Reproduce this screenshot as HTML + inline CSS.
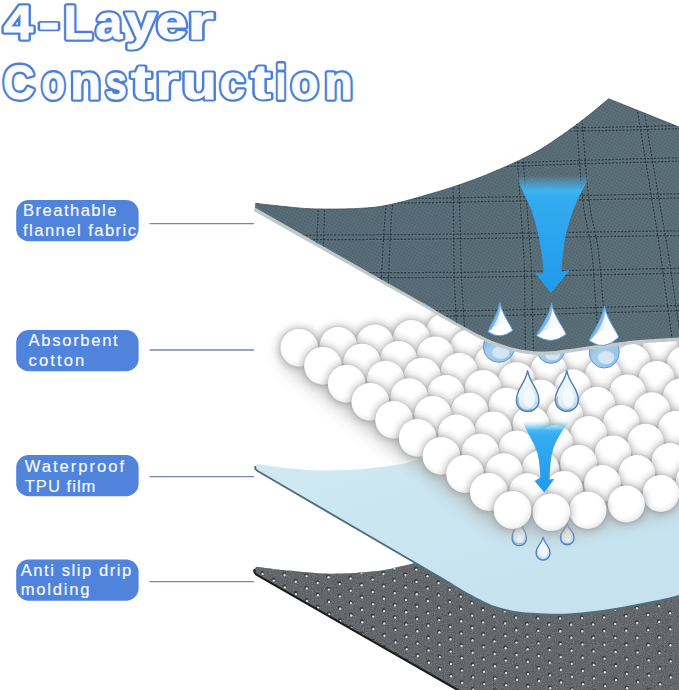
<!DOCTYPE html>
<html lang="en">
<head>
<meta charset="utf-8">
<title>4-Layer Construction</title>
<style>
  html, body { margin: 0; padding: 0; background: #ffffff; }
  body { width: 679px; height: 690px; overflow: hidden; font-family: "Liberation Sans", sans-serif; }
  svg { display: block; }
  .ttl text { vector-effect: non-scaling-stroke; }
  .ttl { font-family: "Liberation Sans", sans-serif; font-weight: bold; font-size: 47.5px; }
  .lbl { font-family: "Liberation Sans", sans-serif; font-size: 16.6px; fill: #f8faff; stroke: #f8faff; stroke-width: 0.15px; }
</style>
</head>
<body>
<svg width="679" height="690" viewBox="0 0 679 690">
<defs>
  <linearGradient id="gFab" x1="0" y1="0" x2="1" y2="0">
    <stop offset="0" stop-color="#566c76"/>
    <stop offset="0.5" stop-color="#586d76"/>
    <stop offset="1" stop-color="#5a6f77"/>
  </linearGradient>
  <linearGradient id="gTpu" x1="0" y1="0" x2="0.6" y2="1">
    <stop offset="0" stop-color="#d3ebf4"/>
    <stop offset="1" stop-color="#c5e2ee"/>
  </linearGradient>
  <linearGradient id="gArrow" x1="0" y1="0" x2="0" y2="1">
    <stop offset="0" stop-color="#5cc4f6"/>
    <stop offset="0.22" stop-color="#33abf1"/>
    <stop offset="1" stop-color="#2299eb"/>
  </linearGradient>
  <linearGradient id="gFade" x1="0" y1="0" x2="0" y2="1">
    <stop offset="0" stop-color="#fff" stop-opacity="0"/>
    <stop offset="0.12" stop-color="#fff" stop-opacity="1"/>
    <stop offset="1" stop-color="#fff" stop-opacity="1"/>
  </linearGradient>
  <radialGradient id="gBall" cx="0.44" cy="0.42" r="0.62">
    <stop offset="0" stop-color="#ffffff"/>
    <stop offset="0.66" stop-color="#ffffff"/>
    <stop offset="0.86" stop-color="#f3f3f3"/>
    <stop offset="1" stop-color="#e2e2e2"/>
  </radialGradient>
  <radialGradient id="gBallSh" cx="0.5" cy="0.5" r="0.5">
    <stop offset="0" stop-color="#8e8e8e" stop-opacity="0.46"/>
    <stop offset="0.68" stop-color="#8e8e8e" stop-opacity="0.46"/>
    <stop offset="0.76" stop-color="#9a9a9a" stop-opacity="0.27"/>
    <stop offset="0.87" stop-color="#a6a6a6" stop-opacity="0.11"/>
    <stop offset="1" stop-color="#b0b0b0" stop-opacity="0"/>
  </radialGradient>
  <filter id="blurBig" x="-30%" y="-30%" width="160%" height="160%"><feGaussianBlur stdDeviation="8"/></filter>
  <linearGradient id="gDrop" x1="0.2" y1="0" x2="0.8" y2="1">
    <stop offset="0" stop-color="#fbfdff"/>
    <stop offset="0.5" stop-color="#e9f3fb"/>
    <stop offset="1" stop-color="#bcdaf0"/>
  </linearGradient>
  <linearGradient id="gCone" x1="0" y1="0" x2="1" y2="0.15">
    <stop offset="0" stop-color="#86bdec"/>
    <stop offset="0.30" stop-color="#c3dff6"/>
    <stop offset="0.55" stop-color="#f2f8fd"/>
    <stop offset="1" stop-color="#ffffff"/>
  </linearGradient>
  <linearGradient id="gBulb" x1="0" y1="0" x2="1" y2="1">
    <stop offset="0" stop-color="#6fa6d8"/>
    <stop offset="0.4" stop-color="#a6cdeb"/>
    <stop offset="1" stop-color="#93c0e4"/>
  </linearGradient>
  <linearGradient id="gMaskV" x1="0" y1="0" x2="0" y2="1">
    <stop offset="0" stop-color="#000"/>
    <stop offset="0.04" stop-color="#000"/>
    <stop offset="0.16" stop-color="#fff"/>
    <stop offset="1" stop-color="#fff"/>
  </linearGradient>
  <mask id="mA1" maskUnits="userSpaceOnUse" x="500" y="170" width="110" height="130">
    <rect x="500" y="170" width="110" height="130" fill="url(#gMaskV)"/>
  </mask>
  <mask id="mA2" maskUnits="userSpaceOnUse" x="515" y="418" width="60" height="80">
    <rect x="515" y="418" width="60" height="80" fill="url(#gMaskV)"/>
  </mask>
  <pattern id="pWeave" width="3" height="3" patternUnits="userSpaceOnUse" patternTransform="rotate(28)">
    <rect width="3" height="3" fill="none"/>
    <rect x="0" y="0" width="1.4" height="1.4" fill="#2c3c46" opacity="0.30"/>
    <rect x="1.5" y="1.5" width="1.3" height="1.3" fill="#8aa3b0" opacity="0.12"/>
  </pattern>
  <filter id="noise" x="0" y="0" width="100%" height="100%">
    <feTurbulence type="fractalNoise" baseFrequency="0.9" numOctaves="2" seed="3" result="n"/>
    <feColorMatrix in="n" type="matrix" values="0 0 0 0 0.33  0 0 0 0 0.34  0 0 0 0 0.36  0.9 0.9 0.9 0 -0.95"/>
  </filter>
  <filter id="blur2" x="-20%" y="-20%" width="140%" height="140%"><feGaussianBlur stdDeviation="2"/></filter>
  <filter id="blur1" x="-20%" y="-20%" width="140%" height="140%"><feGaussianBlur stdDeviation="0.7"/></filter>
</defs>
<rect width="679" height="690" fill="#ffffff"/>

<g id="title">
<g class="ttl" fill="#4c7fd8" stroke="#4c7fd8" stroke-width="5.6" stroke-linejoin="round" stroke-linecap="round" vector-effect="non-scaling-stroke"><text transform="translate(18.60,39.0) scale(1.123,1)" x="-13.54" y="0">4</text><text transform="translate(49.00,39.0) scale(1.360,1)" x="-7.84" y="0">-</text><text transform="translate(79.00,39.0) scale(1.004,1)" x="-15.44" y="0">L</text><text transform="translate(109.50,39.0) scale(1.006,1)" x="-14.01" y="0">a</text><text transform="translate(141.00,39.0) scale(1.179,1)" x="-13.30" y="0">y</text><text transform="translate(171.75,39.0) scale(1.173,1)" x="-13.30" y="0">e</text><text transform="translate(202.25,39.0) scale(1.447,1)" x="-10.45" y="0">r</text></g>
<g class="ttl" fill="#fbfcff" stroke="#fbfcff" stroke-width="1.0" stroke-linejoin="round" stroke-linecap="round" vector-effect="non-scaling-stroke"><text transform="translate(18.60,39.0) scale(1.123,1)" x="-13.54" y="0">4</text><text transform="translate(49.00,39.0) scale(1.360,1)" x="-7.84" y="0">-</text><text transform="translate(79.00,39.0) scale(1.004,1)" x="-15.44" y="0">L</text><text transform="translate(109.50,39.0) scale(1.006,1)" x="-14.01" y="0">a</text><text transform="translate(141.00,39.0) scale(1.179,1)" x="-13.30" y="0">y</text><text transform="translate(171.75,39.0) scale(1.173,1)" x="-13.30" y="0">e</text><text transform="translate(202.25,39.0) scale(1.447,1)" x="-10.45" y="0">r</text></g>
<g class="ttl" fill="#4c7fd8" stroke="#4c7fd8" stroke-width="5.6" stroke-linejoin="round" stroke-linecap="round" vector-effect="non-scaling-stroke"><text transform="translate(18.95,99.4) scale(0.916,1)" x="-17.46" y="0">C</text><text transform="translate(53.30,99.4) scale(0.811,1)" x="-14.49" y="0">o</text><text transform="translate(85.85,99.4) scale(1.063,1)" x="-14.61" y="0">n</text><text transform="translate(115.85,99.4) scale(0.812,1)" x="-13.18" y="0">s</text><text transform="translate(141.45,99.4) scale(1.303,1)" x="-7.96" y="0">t</text><text transform="translate(168.75,99.4) scale(1.297,1)" x="-10.45" y="0">r</text><text transform="translate(199.05,99.4) scale(1.211,1)" x="-14.37" y="0">u</text><text transform="translate(232.60,99.4) scale(0.961,1)" x="-13.42" y="0">c</text><text transform="translate(260.75,99.4) scale(1.303,1)" x="-7.96" y="0">t</text><text transform="translate(280.70,99.4) scale(0.813,1)" x="-6.53" y="0">i</text><text transform="translate(304.65,99.4) scale(0.955,1)" x="-14.49" y="0">o</text><text transform="translate(338.70,99.4) scale(0.981,1)" x="-14.61" y="0">n</text></g>
<g class="ttl" fill="#fbfcff" stroke="#fbfcff" stroke-width="1.0" stroke-linejoin="round" stroke-linecap="round" vector-effect="non-scaling-stroke"><text transform="translate(18.95,99.4) scale(0.916,1)" x="-17.46" y="0">C</text><text transform="translate(53.30,99.4) scale(0.811,1)" x="-14.49" y="0">o</text><text transform="translate(85.85,99.4) scale(1.063,1)" x="-14.61" y="0">n</text><text transform="translate(115.85,99.4) scale(0.812,1)" x="-13.18" y="0">s</text><text transform="translate(141.45,99.4) scale(1.303,1)" x="-7.96" y="0">t</text><text transform="translate(168.75,99.4) scale(1.297,1)" x="-10.45" y="0">r</text><text transform="translate(199.05,99.4) scale(1.211,1)" x="-14.37" y="0">u</text><text transform="translate(232.60,99.4) scale(0.961,1)" x="-13.42" y="0">c</text><text transform="translate(260.75,99.4) scale(1.303,1)" x="-7.96" y="0">t</text><text transform="translate(280.70,99.4) scale(0.813,1)" x="-6.53" y="0">i</text><text transform="translate(304.65,99.4) scale(0.955,1)" x="-14.49" y="0">o</text><text transform="translate(338.70,99.4) scale(0.981,1)" x="-14.61" y="0">n</text></g>
</g>
<g id="labels">
<rect x="16.2" y="200" width="122.4" height="41.2" rx="12.5" ry="12.5" fill="#5083dc"/>
<line x1="149.5" y1="223.6" x2="254" y2="223.6" stroke="#7688b2" stroke-width="1.4"/>
<text class="lbl" x="23" y="216" textLength="93.4" lengthAdjust="spacing">Breathable</text>
<text class="lbl" x="23" y="235.5" textLength="113" lengthAdjust="spacing">flannel fabric</text>
<rect x="16.2" y="330" width="122.4" height="41.2" rx="12.5" ry="12.5" fill="#5083dc"/>
<line x1="149.5" y1="350.0" x2="254" y2="350.0" stroke="#7688b2" stroke-width="1.4"/>
<text class="lbl" x="28.6" y="346" textLength="89.1" lengthAdjust="spacing">Absorbent</text>
<text class="lbl" x="28.6" y="366" textLength="55.7" lengthAdjust="spacing">cotton</text>
<rect x="16.2" y="455" width="122.4" height="41.2" rx="12.5" ry="12.5" fill="#5083dc"/>
<line x1="149.5" y1="476.6" x2="254" y2="476.6" stroke="#7688b2" stroke-width="1.4"/>
<text class="lbl" x="24.7" y="471.8" textLength="99.3" lengthAdjust="spacing">Waterproof</text>
<text class="lbl" x="24.7" y="491.7" textLength="70.7" lengthAdjust="spacing">TPU film</text>
<rect x="16.2" y="559.5" width="122.4" height="41.2" rx="12.5" ry="12.5" fill="#5083dc"/>
<line x1="149.5" y1="581.6" x2="254" y2="581.6" stroke="#7688b2" stroke-width="1.4"/>
<text class="lbl" x="20.7" y="576" textLength="110.5" lengthAdjust="spacing">Anti slip drip</text>
<text class="lbl" x="20.7" y="595" textLength="68.8" lengthAdjust="spacing">molding</text>
</g>
<g id="bottom-layer">
<clipPath id="cpBot"><path d="M257.2,566.8 C260.2,567.2 269.7,568.6 275.0,569.2 C280.3,569.8 281.9,569.9 289.2,570.6 C296.5,571.3 309.1,572.8 318.6,573.2 C328.1,573.7 335.5,573.8 346.0,573.3 C356.5,572.8 372.6,571.5 381.4,570.4 C390.2,569.3 393.1,568.1 399.0,566.8 C404.9,565.5 408.2,565.1 416.7,562.6 C425.2,560.1 444.4,553.8 450.0,552.0 L679,560 L679,691 L459.5,691 L256.6,574.4 Q253.6,572.4 254.6,569.4 Q255.4,566.6 257.2,566.8 Z"/></clipPath>
<path d="M257.2,566.8 C260.2,567.2 269.7,568.6 275.0,569.2 C280.3,569.8 281.9,569.9 289.2,570.6 C296.5,571.3 309.1,572.8 318.6,573.2 C328.1,573.7 335.5,573.8 346.0,573.3 C356.5,572.8 372.6,571.5 381.4,570.4 C390.2,569.3 393.1,568.1 399.0,566.8 C404.9,565.5 408.2,565.1 416.7,562.6 C425.2,560.1 444.4,553.8 450.0,552.0 L679,560 L679,691 L459.5,691 L256.6,574.4 Q253.6,572.4 254.6,569.4 Q255.4,566.6 257.2,566.8 Z" fill="#55585c"/>
<g clip-path="url(#cpBot)">
<rect x="250" y="555" width="430" height="140" fill="#55585c" filter="url(#noise)" opacity="0.55"/>
<g fill="#36383c" opacity="0.85"><circle cx="262.0" cy="560.5" r="2.0"/><circle cx="262.2" cy="572.9" r="2.0"/><circle cx="273.1" cy="567.3" r="2.0"/><circle cx="284.0" cy="561.7" r="2.0"/><circle cx="262.4" cy="585.2" r="2.0"/><circle cx="273.3" cy="579.6" r="2.0"/><circle cx="284.2" cy="574.0" r="2.0"/><circle cx="295.1" cy="568.4" r="2.0"/><circle cx="306.0" cy="562.9" r="2.0"/><circle cx="262.6" cy="597.6" r="2.0"/><circle cx="273.5" cy="592.0" r="2.0"/><circle cx="284.4" cy="586.4" r="2.0"/><circle cx="295.3" cy="580.8" r="2.0"/><circle cx="306.2" cy="575.2" r="2.0"/><circle cx="317.1" cy="569.6" r="2.0"/><circle cx="328.0" cy="564.0" r="2.0"/><circle cx="273.7" cy="604.4" r="2.0"/><circle cx="284.6" cy="598.8" r="2.0"/><circle cx="295.5" cy="593.1" r="2.0"/><circle cx="306.4" cy="587.5" r="2.0"/><circle cx="317.3" cy="581.9" r="2.0"/><circle cx="328.2" cy="576.4" r="2.0"/><circle cx="339.1" cy="570.8" r="2.0"/><circle cx="350.0" cy="565.1" r="2.0"/><circle cx="360.9" cy="559.5" r="2.0"/><circle cx="284.8" cy="611.1" r="2.0"/><circle cx="295.7" cy="605.5" r="2.0"/><circle cx="306.6" cy="599.9" r="2.0"/><circle cx="317.5" cy="594.3" r="2.0"/><circle cx="328.4" cy="588.7" r="2.0"/><circle cx="339.3" cy="583.1" r="2.0"/><circle cx="350.2" cy="577.5" r="2.0"/><circle cx="361.1" cy="571.9" r="2.0"/><circle cx="372.0" cy="566.3" r="2.0"/><circle cx="382.9" cy="560.7" r="2.0"/><circle cx="295.9" cy="617.9" r="2.0"/><circle cx="306.8" cy="612.2" r="2.0"/><circle cx="317.7" cy="606.6" r="2.0"/><circle cx="328.6" cy="601.0" r="2.0"/><circle cx="339.5" cy="595.4" r="2.0"/><circle cx="350.4" cy="589.9" r="2.0"/><circle cx="361.3" cy="584.2" r="2.0"/><circle cx="372.2" cy="578.6" r="2.0"/><circle cx="383.1" cy="573.0" r="2.0"/><circle cx="394.0" cy="567.4" r="2.0"/><circle cx="404.9" cy="561.9" r="2.0"/><circle cx="307.0" cy="624.6" r="2.0"/><circle cx="317.9" cy="619.0" r="2.0"/><circle cx="328.8" cy="613.4" r="2.0"/><circle cx="339.7" cy="607.8" r="2.0"/><circle cx="350.6" cy="602.2" r="2.0"/><circle cx="361.5" cy="596.6" r="2.0"/><circle cx="372.4" cy="591.0" r="2.0"/><circle cx="383.3" cy="585.4" r="2.0"/><circle cx="394.2" cy="579.8" r="2.0"/><circle cx="405.1" cy="574.2" r="2.0"/><circle cx="416.0" cy="568.6" r="2.0"/><circle cx="426.9" cy="563.0" r="2.0"/><circle cx="318.1" cy="631.4" r="2.0"/><circle cx="329.0" cy="625.8" r="2.0"/><circle cx="339.9" cy="620.1" r="2.0"/><circle cx="350.8" cy="614.5" r="2.0"/><circle cx="361.7" cy="608.9" r="2.0"/><circle cx="372.6" cy="603.4" r="2.0"/><circle cx="383.5" cy="597.8" r="2.0"/><circle cx="394.4" cy="592.1" r="2.0"/><circle cx="405.3" cy="586.5" r="2.0"/><circle cx="416.2" cy="580.9" r="2.0"/><circle cx="427.1" cy="575.4" r="2.0"/><circle cx="438.0" cy="569.8" r="2.0"/><circle cx="448.9" cy="564.1" r="2.0"/><circle cx="329.2" cy="638.1" r="2.0"/><circle cx="340.1" cy="632.5" r="2.0"/><circle cx="351.0" cy="626.9" r="2.0"/><circle cx="361.9" cy="621.3" r="2.0"/><circle cx="372.8" cy="615.7" r="2.0"/><circle cx="383.7" cy="610.1" r="2.0"/><circle cx="394.6" cy="604.5" r="2.0"/><circle cx="405.5" cy="598.9" r="2.0"/><circle cx="416.4" cy="593.3" r="2.0"/><circle cx="427.3" cy="587.7" r="2.0"/><circle cx="438.2" cy="582.1" r="2.0"/><circle cx="449.1" cy="576.5" r="2.0"/><circle cx="460.0" cy="570.9" r="2.0"/><circle cx="470.9" cy="565.3" r="2.0"/><circle cx="481.8" cy="559.7" r="2.0"/><circle cx="340.3" cy="644.9" r="2.0"/><circle cx="351.2" cy="639.2" r="2.0"/><circle cx="362.1" cy="633.6" r="2.0"/><circle cx="373.0" cy="628.0" r="2.0"/><circle cx="383.9" cy="622.4" r="2.0"/><circle cx="394.8" cy="616.9" r="2.0"/><circle cx="405.7" cy="611.2" r="2.0"/><circle cx="416.6" cy="605.6" r="2.0"/><circle cx="427.5" cy="600.0" r="2.0"/><circle cx="438.4" cy="594.4" r="2.0"/><circle cx="449.3" cy="588.9" r="2.0"/><circle cx="460.2" cy="583.2" r="2.0"/><circle cx="471.1" cy="577.6" r="2.0"/><circle cx="482.0" cy="572.0" r="2.0"/><circle cx="492.9" cy="566.5" r="2.0"/><circle cx="503.8" cy="560.8" r="2.0"/><circle cx="351.4" cy="651.6" r="2.0"/><circle cx="362.3" cy="646.0" r="2.0"/><circle cx="373.2" cy="640.4" r="2.0"/><circle cx="384.1" cy="634.8" r="2.0"/><circle cx="395.0" cy="629.2" r="2.0"/><circle cx="405.9" cy="623.6" r="2.0"/><circle cx="416.8" cy="618.0" r="2.0"/><circle cx="427.7" cy="612.4" r="2.0"/><circle cx="438.6" cy="606.8" r="2.0"/><circle cx="449.5" cy="601.2" r="2.0"/><circle cx="460.4" cy="595.6" r="2.0"/><circle cx="471.3" cy="590.0" r="2.0"/><circle cx="482.2" cy="584.4" r="2.0"/><circle cx="493.1" cy="578.8" r="2.0"/><circle cx="504.0" cy="573.2" r="2.0"/><circle cx="514.9" cy="567.4" r="2.0"/><circle cx="525.8" cy="561.4" r="2.0"/><circle cx="362.5" cy="658.4" r="2.0"/><circle cx="373.4" cy="652.8" r="2.0"/><circle cx="384.3" cy="647.1" r="2.0"/><circle cx="395.2" cy="641.5" r="2.0"/><circle cx="406.1" cy="635.9" r="2.0"/><circle cx="417.0" cy="630.4" r="2.0"/><circle cx="427.9" cy="624.8" r="2.0"/><circle cx="438.8" cy="619.1" r="2.0"/><circle cx="449.7" cy="613.5" r="2.0"/><circle cx="460.6" cy="607.9" r="2.0"/><circle cx="471.5" cy="602.4" r="2.0"/><circle cx="482.4" cy="596.8" r="2.0"/><circle cx="493.3" cy="591.1" r="2.0"/><circle cx="504.2" cy="585.5" r="2.0"/><circle cx="515.1" cy="579.7" r="2.0"/><circle cx="526.0" cy="573.7" r="2.0"/><circle cx="536.9" cy="567.5" r="2.0"/><circle cx="547.8" cy="561.0" r="2.0"/><circle cx="373.6" cy="665.1" r="2.0"/><circle cx="384.5" cy="659.5" r="2.0"/><circle cx="395.4" cy="653.9" r="2.0"/><circle cx="406.3" cy="648.3" r="2.0"/><circle cx="417.2" cy="642.7" r="2.0"/><circle cx="428.1" cy="637.1" r="2.0"/><circle cx="439.0" cy="631.5" r="2.0"/><circle cx="449.9" cy="625.9" r="2.0"/><circle cx="460.8" cy="620.3" r="2.0"/><circle cx="471.7" cy="614.7" r="2.0"/><circle cx="482.6" cy="609.1" r="2.0"/><circle cx="493.5" cy="603.5" r="2.0"/><circle cx="504.4" cy="597.9" r="2.0"/><circle cx="515.3" cy="592.1" r="2.0"/><circle cx="526.2" cy="586.1" r="2.0"/><circle cx="537.1" cy="579.8" r="2.0"/><circle cx="548.0" cy="573.3" r="2.0"/><circle cx="558.9" cy="566.6" r="2.0"/><circle cx="569.8" cy="559.7" r="2.0"/><circle cx="384.7" cy="671.9" r="2.0"/><circle cx="395.6" cy="666.2" r="2.0"/><circle cx="406.5" cy="660.6" r="2.0"/><circle cx="417.4" cy="655.0" r="2.0"/><circle cx="428.3" cy="649.4" r="2.0"/><circle cx="439.2" cy="643.9" r="2.0"/><circle cx="450.1" cy="638.2" r="2.0"/><circle cx="461.0" cy="632.6" r="2.0"/><circle cx="471.9" cy="627.0" r="2.0"/><circle cx="482.8" cy="621.4" r="2.0"/><circle cx="493.7" cy="615.9" r="2.0"/><circle cx="504.6" cy="610.2" r="2.0"/><circle cx="515.5" cy="604.5" r="2.0"/><circle cx="526.4" cy="598.5" r="2.0"/><circle cx="537.3" cy="592.4" r="2.0"/><circle cx="548.2" cy="585.9" r="2.0"/><circle cx="559.1" cy="579.1" r="2.0"/><circle cx="570.0" cy="572.0" r="2.0"/><circle cx="580.9" cy="564.9" r="2.0"/><circle cx="395.8" cy="678.6" r="2.0"/><circle cx="406.7" cy="673.0" r="2.0"/><circle cx="417.6" cy="667.4" r="2.0"/><circle cx="428.5" cy="661.8" r="2.0"/><circle cx="439.4" cy="656.2" r="2.0"/><circle cx="450.3" cy="650.6" r="2.0"/><circle cx="461.2" cy="645.0" r="2.0"/><circle cx="472.1" cy="639.4" r="2.0"/><circle cx="483.0" cy="633.8" r="2.0"/><circle cx="493.9" cy="628.2" r="2.0"/><circle cx="504.8" cy="622.6" r="2.0"/><circle cx="515.7" cy="616.9" r="2.0"/><circle cx="526.6" cy="611.0" r="2.0"/><circle cx="537.5" cy="604.9" r="2.0"/><circle cx="548.4" cy="598.5" r="2.0"/><circle cx="559.3" cy="591.9" r="2.0"/><circle cx="570.2" cy="584.9" r="2.0"/><circle cx="581.1" cy="577.6" r="2.0"/><circle cx="592.0" cy="569.9" r="2.0"/><circle cx="602.9" cy="562.2" r="2.0"/><circle cx="406.9" cy="685.4" r="2.0"/><circle cx="417.8" cy="679.8" r="2.0"/><circle cx="428.7" cy="674.1" r="2.0"/><circle cx="439.6" cy="668.5" r="2.0"/><circle cx="450.5" cy="662.9" r="2.0"/><circle cx="461.4" cy="657.4" r="2.0"/><circle cx="472.3" cy="651.8" r="2.0"/><circle cx="483.2" cy="646.1" r="2.0"/><circle cx="494.1" cy="640.5" r="2.0"/><circle cx="505.0" cy="634.9" r="2.0"/><circle cx="515.9" cy="629.2" r="2.0"/><circle cx="526.8" cy="623.4" r="2.0"/><circle cx="537.7" cy="617.4" r="2.0"/><circle cx="548.6" cy="611.2" r="2.0"/><circle cx="559.5" cy="604.7" r="2.0"/><circle cx="570.4" cy="597.9" r="2.0"/><circle cx="581.3" cy="590.8" r="2.0"/><circle cx="592.2" cy="583.3" r="2.0"/><circle cx="603.1" cy="575.3" r="2.0"/><circle cx="614.0" cy="566.9" r="2.0"/><circle cx="418.0" cy="692.1" r="2.0"/><circle cx="428.9" cy="686.5" r="2.0"/><circle cx="439.8" cy="680.9" r="2.0"/><circle cx="450.7" cy="675.3" r="2.0"/><circle cx="461.6" cy="669.7" r="2.0"/><circle cx="472.5" cy="664.1" r="2.0"/><circle cx="483.4" cy="658.5" r="2.0"/><circle cx="494.3" cy="652.9" r="2.0"/><circle cx="505.2" cy="647.3" r="2.0"/><circle cx="516.1" cy="641.6" r="2.0"/><circle cx="527.0" cy="635.9" r="2.0"/><circle cx="537.9" cy="629.9" r="2.0"/><circle cx="548.8" cy="623.8" r="2.0"/><circle cx="559.7" cy="617.5" r="2.0"/><circle cx="570.6" cy="610.9" r="2.0"/><circle cx="581.5" cy="604.0" r="2.0"/><circle cx="592.4" cy="596.7" r="2.0"/><circle cx="603.3" cy="589.0" r="2.0"/><circle cx="614.2" cy="580.9" r="2.0"/><circle cx="625.1" cy="572.3" r="2.0"/><circle cx="636.0" cy="563.2" r="2.0"/><circle cx="440.0" cy="693.2" r="2.0"/><circle cx="450.9" cy="687.6" r="2.0"/><circle cx="461.8" cy="682.0" r="2.0"/><circle cx="472.7" cy="676.4" r="2.0"/><circle cx="483.6" cy="670.9" r="2.0"/><circle cx="494.5" cy="665.2" r="2.0"/><circle cx="505.4" cy="659.6" r="2.0"/><circle cx="516.3" cy="654.0" r="2.0"/><circle cx="527.2" cy="648.3" r="2.0"/><circle cx="538.1" cy="642.5" r="2.0"/><circle cx="549.0" cy="636.5" r="2.0"/><circle cx="559.9" cy="630.3" r="2.0"/><circle cx="570.8" cy="623.9" r="2.0"/><circle cx="581.7" cy="617.2" r="2.0"/><circle cx="592.6" cy="610.1" r="2.0"/><circle cx="603.5" cy="602.7" r="2.0"/><circle cx="614.4" cy="594.9" r="2.0"/><circle cx="625.3" cy="586.7" r="2.0"/><circle cx="636.2" cy="577.9" r="2.0"/><circle cx="647.1" cy="568.6" r="2.0"/><circle cx="462.0" cy="694.4" r="2.0"/><circle cx="472.9" cy="688.8" r="2.0"/><circle cx="483.8" cy="683.2" r="2.0"/><circle cx="494.7" cy="677.6" r="2.0"/><circle cx="505.6" cy="672.0" r="2.0"/><circle cx="516.5" cy="666.4" r="2.0"/><circle cx="527.4" cy="660.7" r="2.0"/><circle cx="538.3" cy="655.0" r="2.0"/><circle cx="549.2" cy="649.1" r="2.0"/><circle cx="560.1" cy="643.1" r="2.0"/><circle cx="571.0" cy="636.9" r="2.0"/><circle cx="581.9" cy="630.4" r="2.0"/><circle cx="592.8" cy="623.6" r="2.0"/><circle cx="603.7" cy="616.4" r="2.0"/><circle cx="614.6" cy="608.9" r="2.0"/><circle cx="625.5" cy="601.0" r="2.0"/><circle cx="636.4" cy="592.6" r="2.0"/><circle cx="647.3" cy="583.7" r="2.0"/><circle cx="658.2" cy="574.3" r="2.0"/><circle cx="669.1" cy="564.3" r="2.0"/><circle cx="494.9" cy="689.9" r="2.0"/><circle cx="505.8" cy="684.4" r="2.0"/><circle cx="516.7" cy="678.8" r="2.0"/><circle cx="527.6" cy="673.2" r="2.0"/><circle cx="538.5" cy="667.6" r="2.0"/><circle cx="549.4" cy="661.8" r="2.0"/><circle cx="560.3" cy="655.9" r="2.0"/><circle cx="571.2" cy="649.9" r="2.0"/><circle cx="582.1" cy="643.6" r="2.0"/><circle cx="593.0" cy="637.0" r="2.0"/><circle cx="603.9" cy="630.2" r="2.0"/><circle cx="614.8" cy="623.0" r="2.0"/><circle cx="625.7" cy="615.4" r="2.0"/><circle cx="636.6" cy="607.3" r="2.0"/><circle cx="647.5" cy="598.8" r="2.0"/><circle cx="658.4" cy="589.8" r="2.0"/><circle cx="669.3" cy="580.3" r="2.0"/><circle cx="680.2" cy="570.1" r="2.0"/><circle cx="516.9" cy="691.2" r="2.0"/><circle cx="527.8" cy="685.6" r="2.0"/><circle cx="538.7" cy="680.1" r="2.0"/><circle cx="549.6" cy="674.5" r="2.0"/><circle cx="560.5" cy="668.7" r="2.0"/><circle cx="571.4" cy="662.9" r="2.0"/><circle cx="582.3" cy="656.8" r="2.0"/><circle cx="593.2" cy="650.5" r="2.0"/><circle cx="604.1" cy="643.9" r="2.0"/><circle cx="615.0" cy="637.0" r="2.0"/><circle cx="625.9" cy="629.7" r="2.0"/><circle cx="636.8" cy="622.1" r="2.0"/><circle cx="647.7" cy="614.0" r="2.0"/><circle cx="658.6" cy="605.4" r="2.0"/><circle cx="669.5" cy="596.3" r="2.0"/><circle cx="680.4" cy="586.6" r="2.0"/><circle cx="538.9" cy="692.6" r="2.0"/><circle cx="549.8" cy="687.1" r="2.0"/><circle cx="560.7" cy="681.6" r="2.0"/><circle cx="571.6" cy="675.9" r="2.0"/><circle cx="582.5" cy="670.0" r="2.0"/><circle cx="593.4" cy="664.0" r="2.0"/><circle cx="604.3" cy="657.6" r="2.0"/><circle cx="615.2" cy="651.0" r="2.0"/><circle cx="626.1" cy="644.1" r="2.0"/><circle cx="637.0" cy="636.8" r="2.0"/><circle cx="647.9" cy="629.1" r="2.0"/><circle cx="658.8" cy="620.9" r="2.0"/><circle cx="669.7" cy="612.3" r="2.0"/><circle cx="680.6" cy="603.1" r="2.0"/><circle cx="560.9" cy="694.4" r="2.0"/><circle cx="571.8" cy="688.9" r="2.0"/><circle cx="582.7" cy="683.3" r="2.0"/><circle cx="593.6" cy="677.4" r="2.0"/><circle cx="604.5" cy="671.4" r="2.0"/><circle cx="615.4" cy="665.1" r="2.0"/><circle cx="626.3" cy="658.5" r="2.0"/><circle cx="637.2" cy="651.6" r="2.0"/><circle cx="648.1" cy="644.3" r="2.0"/><circle cx="659.0" cy="636.5" r="2.0"/><circle cx="669.9" cy="628.3" r="2.0"/><circle cx="680.8" cy="619.6" r="2.0"/><circle cx="593.8" cy="690.9" r="2.0"/><circle cx="604.7" cy="685.2" r="2.0"/><circle cx="615.6" cy="679.2" r="2.0"/><circle cx="626.5" cy="672.9" r="2.0"/><circle cx="637.4" cy="666.4" r="2.0"/><circle cx="648.3" cy="659.4" r="2.0"/><circle cx="659.2" cy="652.1" r="2.0"/><circle cx="670.1" cy="644.4" r="2.0"/><circle cx="681.0" cy="636.2" r="2.0"/><circle cx="615.8" cy="693.3" r="2.0"/><circle cx="626.7" cy="687.4" r="2.0"/><circle cx="637.6" cy="681.2" r="2.0"/><circle cx="648.5" cy="674.6" r="2.0"/><circle cx="659.4" cy="667.8" r="2.0"/><circle cx="670.3" cy="660.5" r="2.0"/><circle cx="681.2" cy="652.7" r="2.0"/><circle cx="648.7" cy="689.8" r="2.0"/><circle cx="659.6" cy="683.4" r="2.0"/><circle cx="670.5" cy="676.6" r="2.0"/><circle cx="681.4" cy="669.3" r="2.0"/><circle cx="670.7" cy="692.7" r="2.0"/><circle cx="681.6" cy="685.9" r="2.0"/></g>
<g fill="#d9dbde"><circle cx="262.4" cy="561.5" r="1.2"/><circle cx="262.6" cy="573.9" r="1.2"/><circle cx="273.5" cy="568.2" r="1.2"/><circle cx="284.4" cy="562.6" r="1.2"/><circle cx="262.8" cy="586.2" r="1.2"/><circle cx="273.7" cy="580.6" r="1.2"/><circle cx="284.6" cy="575.0" r="1.2"/><circle cx="295.5" cy="569.4" r="1.2"/><circle cx="306.4" cy="563.8" r="1.2"/><circle cx="263.0" cy="598.6" r="1.2"/><circle cx="273.9" cy="593.0" r="1.2"/><circle cx="284.8" cy="587.4" r="1.2"/><circle cx="295.7" cy="581.8" r="1.2"/><circle cx="306.6" cy="576.1" r="1.2"/><circle cx="317.5" cy="570.6" r="1.2"/><circle cx="328.4" cy="565.0" r="1.2"/><circle cx="274.1" cy="605.3" r="1.2"/><circle cx="285.0" cy="599.7" r="1.2"/><circle cx="295.9" cy="594.1" r="1.2"/><circle cx="306.8" cy="588.5" r="1.2"/><circle cx="317.7" cy="582.9" r="1.2"/><circle cx="328.6" cy="577.3" r="1.2"/><circle cx="339.5" cy="571.7" r="1.2"/><circle cx="350.4" cy="566.1" r="1.2"/><circle cx="361.3" cy="560.5" r="1.2"/><circle cx="285.2" cy="612.1" r="1.2"/><circle cx="296.1" cy="606.5" r="1.2"/><circle cx="307.0" cy="600.9" r="1.2"/><circle cx="317.9" cy="595.2" r="1.2"/><circle cx="328.8" cy="589.6" r="1.2"/><circle cx="339.7" cy="584.1" r="1.2"/><circle cx="350.6" cy="578.5" r="1.2"/><circle cx="361.5" cy="572.9" r="1.2"/><circle cx="372.4" cy="567.2" r="1.2"/><circle cx="383.3" cy="561.6" r="1.2"/><circle cx="296.3" cy="618.8" r="1.2"/><circle cx="307.2" cy="613.2" r="1.2"/><circle cx="318.1" cy="607.6" r="1.2"/><circle cx="329.0" cy="602.0" r="1.2"/><circle cx="339.9" cy="596.4" r="1.2"/><circle cx="350.8" cy="590.8" r="1.2"/><circle cx="361.7" cy="585.2" r="1.2"/><circle cx="372.6" cy="579.6" r="1.2"/><circle cx="383.5" cy="574.0" r="1.2"/><circle cx="394.4" cy="568.4" r="1.2"/><circle cx="405.3" cy="562.8" r="1.2"/><circle cx="307.4" cy="625.6" r="1.2"/><circle cx="318.3" cy="620.0" r="1.2"/><circle cx="329.2" cy="614.4" r="1.2"/><circle cx="340.1" cy="608.8" r="1.2"/><circle cx="351.0" cy="603.1" r="1.2"/><circle cx="361.9" cy="597.6" r="1.2"/><circle cx="372.8" cy="592.0" r="1.2"/><circle cx="383.7" cy="586.4" r="1.2"/><circle cx="394.6" cy="580.8" r="1.2"/><circle cx="405.5" cy="575.1" r="1.2"/><circle cx="416.4" cy="569.6" r="1.2"/><circle cx="427.3" cy="564.0" r="1.2"/><circle cx="318.5" cy="632.3" r="1.2"/><circle cx="329.4" cy="626.7" r="1.2"/><circle cx="340.3" cy="621.1" r="1.2"/><circle cx="351.2" cy="615.5" r="1.2"/><circle cx="362.1" cy="609.9" r="1.2"/><circle cx="373.0" cy="604.3" r="1.2"/><circle cx="383.9" cy="598.7" r="1.2"/><circle cx="394.8" cy="593.1" r="1.2"/><circle cx="405.7" cy="587.5" r="1.2"/><circle cx="416.6" cy="581.9" r="1.2"/><circle cx="427.5" cy="576.3" r="1.2"/><circle cx="438.4" cy="570.7" r="1.2"/><circle cx="449.3" cy="565.1" r="1.2"/><circle cx="329.6" cy="639.1" r="1.2"/><circle cx="340.5" cy="633.5" r="1.2"/><circle cx="351.4" cy="627.9" r="1.2"/><circle cx="362.3" cy="622.2" r="1.2"/><circle cx="373.2" cy="616.6" r="1.2"/><circle cx="384.1" cy="611.1" r="1.2"/><circle cx="395.0" cy="605.5" r="1.2"/><circle cx="405.9" cy="599.9" r="1.2"/><circle cx="416.8" cy="594.2" r="1.2"/><circle cx="427.7" cy="588.6" r="1.2"/><circle cx="438.6" cy="583.1" r="1.2"/><circle cx="449.5" cy="577.5" r="1.2"/><circle cx="460.4" cy="571.9" r="1.2"/><circle cx="471.3" cy="566.2" r="1.2"/><circle cx="482.2" cy="560.7" r="1.2"/><circle cx="340.7" cy="645.8" r="1.2"/><circle cx="351.6" cy="640.2" r="1.2"/><circle cx="362.5" cy="634.6" r="1.2"/><circle cx="373.4" cy="629.0" r="1.2"/><circle cx="384.3" cy="623.4" r="1.2"/><circle cx="395.2" cy="617.8" r="1.2"/><circle cx="406.1" cy="612.2" r="1.2"/><circle cx="417.0" cy="606.6" r="1.2"/><circle cx="427.9" cy="601.0" r="1.2"/><circle cx="438.8" cy="595.4" r="1.2"/><circle cx="449.7" cy="589.8" r="1.2"/><circle cx="460.6" cy="584.2" r="1.2"/><circle cx="471.5" cy="578.6" r="1.2"/><circle cx="482.4" cy="573.0" r="1.2"/><circle cx="493.3" cy="567.4" r="1.2"/><circle cx="504.2" cy="561.8" r="1.2"/><circle cx="351.8" cy="652.6" r="1.2"/><circle cx="362.7" cy="647.0" r="1.2"/><circle cx="373.6" cy="641.4" r="1.2"/><circle cx="384.5" cy="635.8" r="1.2"/><circle cx="395.4" cy="630.1" r="1.2"/><circle cx="406.3" cy="624.6" r="1.2"/><circle cx="417.2" cy="619.0" r="1.2"/><circle cx="428.1" cy="613.4" r="1.2"/><circle cx="439.0" cy="607.8" r="1.2"/><circle cx="449.9" cy="602.1" r="1.2"/><circle cx="460.8" cy="596.6" r="1.2"/><circle cx="471.7" cy="591.0" r="1.2"/><circle cx="482.6" cy="585.4" r="1.2"/><circle cx="493.5" cy="579.8" r="1.2"/><circle cx="504.4" cy="574.1" r="1.2"/><circle cx="515.3" cy="568.3" r="1.2"/><circle cx="526.2" cy="562.3" r="1.2"/><circle cx="362.9" cy="659.3" r="1.2"/><circle cx="373.8" cy="653.7" r="1.2"/><circle cx="384.7" cy="648.1" r="1.2"/><circle cx="395.6" cy="642.5" r="1.2"/><circle cx="406.5" cy="636.9" r="1.2"/><circle cx="417.4" cy="631.3" r="1.2"/><circle cx="428.3" cy="625.7" r="1.2"/><circle cx="439.2" cy="620.1" r="1.2"/><circle cx="450.1" cy="614.5" r="1.2"/><circle cx="461.0" cy="608.9" r="1.2"/><circle cx="471.9" cy="603.3" r="1.2"/><circle cx="482.8" cy="597.7" r="1.2"/><circle cx="493.7" cy="592.1" r="1.2"/><circle cx="504.6" cy="586.5" r="1.2"/><circle cx="515.5" cy="580.7" r="1.2"/><circle cx="526.4" cy="574.7" r="1.2"/><circle cx="537.3" cy="568.4" r="1.2"/><circle cx="548.2" cy="561.9" r="1.2"/><circle cx="374.0" cy="666.1" r="1.2"/><circle cx="384.9" cy="660.5" r="1.2"/><circle cx="395.8" cy="654.9" r="1.2"/><circle cx="406.7" cy="649.2" r="1.2"/><circle cx="417.6" cy="643.6" r="1.2"/><circle cx="428.5" cy="638.1" r="1.2"/><circle cx="439.4" cy="632.5" r="1.2"/><circle cx="450.3" cy="626.9" r="1.2"/><circle cx="461.2" cy="621.2" r="1.2"/><circle cx="472.1" cy="615.6" r="1.2"/><circle cx="483.0" cy="610.1" r="1.2"/><circle cx="493.9" cy="604.5" r="1.2"/><circle cx="504.8" cy="598.8" r="1.2"/><circle cx="515.7" cy="593.1" r="1.2"/><circle cx="526.6" cy="587.1" r="1.2"/><circle cx="537.5" cy="580.8" r="1.2"/><circle cx="548.4" cy="574.3" r="1.2"/><circle cx="559.3" cy="567.6" r="1.2"/><circle cx="570.2" cy="560.7" r="1.2"/><circle cx="385.1" cy="672.8" r="1.2"/><circle cx="396.0" cy="667.2" r="1.2"/><circle cx="406.9" cy="661.6" r="1.2"/><circle cx="417.8" cy="656.0" r="1.2"/><circle cx="428.7" cy="650.4" r="1.2"/><circle cx="439.6" cy="644.8" r="1.2"/><circle cx="450.5" cy="639.2" r="1.2"/><circle cx="461.4" cy="633.6" r="1.2"/><circle cx="472.3" cy="628.0" r="1.2"/><circle cx="483.2" cy="622.4" r="1.2"/><circle cx="494.1" cy="616.8" r="1.2"/><circle cx="505.0" cy="611.2" r="1.2"/><circle cx="515.9" cy="605.4" r="1.2"/><circle cx="526.8" cy="599.5" r="1.2"/><circle cx="537.7" cy="593.3" r="1.2"/><circle cx="548.6" cy="586.9" r="1.2"/><circle cx="559.5" cy="580.1" r="1.2"/><circle cx="570.4" cy="573.0" r="1.2"/><circle cx="581.3" cy="565.8" r="1.2"/><circle cx="396.2" cy="679.6" r="1.2"/><circle cx="407.1" cy="674.0" r="1.2"/><circle cx="418.0" cy="668.4" r="1.2"/><circle cx="428.9" cy="662.8" r="1.2"/><circle cx="439.8" cy="657.1" r="1.2"/><circle cx="450.7" cy="651.6" r="1.2"/><circle cx="461.6" cy="646.0" r="1.2"/><circle cx="472.5" cy="640.4" r="1.2"/><circle cx="483.4" cy="634.8" r="1.2"/><circle cx="494.3" cy="629.1" r="1.2"/><circle cx="505.2" cy="623.5" r="1.2"/><circle cx="516.1" cy="617.8" r="1.2"/><circle cx="527.0" cy="611.9" r="1.2"/><circle cx="537.9" cy="605.8" r="1.2"/><circle cx="548.8" cy="599.5" r="1.2"/><circle cx="559.7" cy="592.9" r="1.2"/><circle cx="570.6" cy="585.9" r="1.2"/><circle cx="581.5" cy="578.6" r="1.2"/><circle cx="592.4" cy="570.8" r="1.2"/><circle cx="603.3" cy="563.2" r="1.2"/><circle cx="407.3" cy="686.3" r="1.2"/><circle cx="418.2" cy="680.7" r="1.2"/><circle cx="429.1" cy="675.1" r="1.2"/><circle cx="440.0" cy="669.5" r="1.2"/><circle cx="450.9" cy="663.9" r="1.2"/><circle cx="461.8" cy="658.3" r="1.2"/><circle cx="472.7" cy="652.7" r="1.2"/><circle cx="483.6" cy="647.1" r="1.2"/><circle cx="494.5" cy="641.5" r="1.2"/><circle cx="505.4" cy="635.9" r="1.2"/><circle cx="516.3" cy="630.2" r="1.2"/><circle cx="527.2" cy="624.4" r="1.2"/><circle cx="538.1" cy="618.4" r="1.2"/><circle cx="549.0" cy="612.1" r="1.2"/><circle cx="559.9" cy="605.7" r="1.2"/><circle cx="570.8" cy="598.9" r="1.2"/><circle cx="581.7" cy="591.7" r="1.2"/><circle cx="592.6" cy="584.2" r="1.2"/><circle cx="603.5" cy="576.3" r="1.2"/><circle cx="614.4" cy="567.9" r="1.2"/><circle cx="418.4" cy="693.1" r="1.2"/><circle cx="429.3" cy="687.5" r="1.2"/><circle cx="440.2" cy="681.9" r="1.2"/><circle cx="451.1" cy="676.2" r="1.2"/><circle cx="462.0" cy="670.6" r="1.2"/><circle cx="472.9" cy="665.1" r="1.2"/><circle cx="483.8" cy="659.5" r="1.2"/><circle cx="494.7" cy="653.9" r="1.2"/><circle cx="505.6" cy="648.2" r="1.2"/><circle cx="516.5" cy="642.6" r="1.2"/><circle cx="527.4" cy="636.8" r="1.2"/><circle cx="538.3" cy="630.9" r="1.2"/><circle cx="549.2" cy="624.8" r="1.2"/><circle cx="560.1" cy="618.4" r="1.2"/><circle cx="571.0" cy="611.8" r="1.2"/><circle cx="581.9" cy="604.9" r="1.2"/><circle cx="592.8" cy="597.6" r="1.2"/><circle cx="603.7" cy="590.0" r="1.2"/><circle cx="614.6" cy="581.9" r="1.2"/><circle cx="625.5" cy="573.3" r="1.2"/><circle cx="636.4" cy="564.2" r="1.2"/><circle cx="440.4" cy="694.2" r="1.2"/><circle cx="451.3" cy="688.6" r="1.2"/><circle cx="462.2" cy="683.0" r="1.2"/><circle cx="473.1" cy="677.4" r="1.2"/><circle cx="484.0" cy="671.8" r="1.2"/><circle cx="494.9" cy="666.2" r="1.2"/><circle cx="505.8" cy="660.6" r="1.2"/><circle cx="516.7" cy="655.0" r="1.2"/><circle cx="527.6" cy="649.3" r="1.2"/><circle cx="538.5" cy="643.4" r="1.2"/><circle cx="549.4" cy="637.4" r="1.2"/><circle cx="560.3" cy="631.3" r="1.2"/><circle cx="571.2" cy="624.8" r="1.2"/><circle cx="582.1" cy="618.1" r="1.2"/><circle cx="593.0" cy="611.1" r="1.2"/><circle cx="603.9" cy="603.7" r="1.2"/><circle cx="614.8" cy="595.9" r="1.2"/><circle cx="625.7" cy="587.6" r="1.2"/><circle cx="636.6" cy="578.9" r="1.2"/><circle cx="647.5" cy="569.6" r="1.2"/><circle cx="462.4" cy="695.4" r="1.2"/><circle cx="473.3" cy="689.8" r="1.2"/><circle cx="484.2" cy="684.1" r="1.2"/><circle cx="495.1" cy="678.6" r="1.2"/><circle cx="506.0" cy="673.0" r="1.2"/><circle cx="516.9" cy="667.3" r="1.2"/><circle cx="527.8" cy="661.7" r="1.2"/><circle cx="538.7" cy="656.0" r="1.2"/><circle cx="549.6" cy="650.1" r="1.2"/><circle cx="560.5" cy="644.1" r="1.2"/><circle cx="571.4" cy="637.8" r="1.2"/><circle cx="582.3" cy="631.3" r="1.2"/><circle cx="593.2" cy="624.5" r="1.2"/><circle cx="604.1" cy="617.4" r="1.2"/><circle cx="615.0" cy="609.9" r="1.2"/><circle cx="625.9" cy="602.0" r="1.2"/><circle cx="636.8" cy="593.6" r="1.2"/><circle cx="647.7" cy="584.7" r="1.2"/><circle cx="658.6" cy="575.2" r="1.2"/><circle cx="669.5" cy="565.2" r="1.2"/><circle cx="495.3" cy="690.9" r="1.2"/><circle cx="506.2" cy="685.3" r="1.2"/><circle cx="517.1" cy="679.7" r="1.2"/><circle cx="528.0" cy="674.1" r="1.2"/><circle cx="538.9" cy="668.5" r="1.2"/><circle cx="549.8" cy="662.8" r="1.2"/><circle cx="560.7" cy="656.9" r="1.2"/><circle cx="571.6" cy="650.8" r="1.2"/><circle cx="582.5" cy="644.5" r="1.2"/><circle cx="593.4" cy="638.0" r="1.2"/><circle cx="604.3" cy="631.1" r="1.2"/><circle cx="615.2" cy="623.9" r="1.2"/><circle cx="626.1" cy="616.3" r="1.2"/><circle cx="637.0" cy="608.3" r="1.2"/><circle cx="647.9" cy="599.8" r="1.2"/><circle cx="658.8" cy="590.8" r="1.2"/><circle cx="669.7" cy="581.2" r="1.2"/><circle cx="680.6" cy="571.0" r="1.2"/><circle cx="517.3" cy="692.1" r="1.2"/><circle cx="528.2" cy="686.6" r="1.2"/><circle cx="539.1" cy="681.0" r="1.2"/><circle cx="550.0" cy="675.4" r="1.2"/><circle cx="560.9" cy="669.7" r="1.2"/><circle cx="571.8" cy="663.8" r="1.2"/><circle cx="582.7" cy="657.7" r="1.2"/><circle cx="593.6" cy="651.4" r="1.2"/><circle cx="604.5" cy="644.8" r="1.2"/><circle cx="615.4" cy="637.9" r="1.2"/><circle cx="626.3" cy="630.7" r="1.2"/><circle cx="637.2" cy="623.0" r="1.2"/><circle cx="648.1" cy="614.9" r="1.2"/><circle cx="659.0" cy="606.3" r="1.2"/><circle cx="669.9" cy="597.2" r="1.2"/><circle cx="680.8" cy="587.5" r="1.2"/><circle cx="539.3" cy="693.6" r="1.2"/><circle cx="550.2" cy="688.1" r="1.2"/><circle cx="561.1" cy="682.5" r="1.2"/><circle cx="572.0" cy="676.8" r="1.2"/><circle cx="582.9" cy="671.0" r="1.2"/><circle cx="593.8" cy="664.9" r="1.2"/><circle cx="604.7" cy="658.6" r="1.2"/><circle cx="615.6" cy="652.0" r="1.2"/><circle cx="626.5" cy="645.1" r="1.2"/><circle cx="637.4" cy="637.8" r="1.2"/><circle cx="648.3" cy="630.1" r="1.2"/><circle cx="659.2" cy="621.9" r="1.2"/><circle cx="670.1" cy="613.2" r="1.2"/><circle cx="681.0" cy="604.0" r="1.2"/><circle cx="561.3" cy="695.4" r="1.2"/><circle cx="572.2" cy="689.8" r="1.2"/><circle cx="583.1" cy="684.2" r="1.2"/><circle cx="594.0" cy="678.4" r="1.2"/><circle cx="604.9" cy="672.3" r="1.2"/><circle cx="615.8" cy="666.1" r="1.2"/><circle cx="626.7" cy="659.5" r="1.2"/><circle cx="637.6" cy="652.5" r="1.2"/><circle cx="648.5" cy="645.2" r="1.2"/><circle cx="659.4" cy="637.5" r="1.2"/><circle cx="670.3" cy="629.3" r="1.2"/><circle cx="681.2" cy="620.6" r="1.2"/><circle cx="594.2" cy="691.9" r="1.2"/><circle cx="605.1" cy="686.1" r="1.2"/><circle cx="616.0" cy="680.1" r="1.2"/><circle cx="626.9" cy="673.9" r="1.2"/><circle cx="637.8" cy="667.3" r="1.2"/><circle cx="648.7" cy="660.4" r="1.2"/><circle cx="659.6" cy="653.1" r="1.2"/><circle cx="670.5" cy="645.3" r="1.2"/><circle cx="681.4" cy="637.1" r="1.2"/><circle cx="616.2" cy="694.2" r="1.2"/><circle cx="627.1" cy="688.3" r="1.2"/><circle cx="638.0" cy="682.1" r="1.2"/><circle cx="648.9" cy="675.6" r="1.2"/><circle cx="659.8" cy="668.7" r="1.2"/><circle cx="670.7" cy="661.4" r="1.2"/><circle cx="681.6" cy="653.7" r="1.2"/><circle cx="649.1" cy="690.8" r="1.2"/><circle cx="660.0" cy="684.3" r="1.2"/><circle cx="670.9" cy="677.5" r="1.2"/><circle cx="681.8" cy="670.3" r="1.2"/><circle cx="671.1" cy="693.6" r="1.2"/><circle cx="682.0" cy="686.9" r="1.2"/></g>
</g>
<path d="M254.5,570 Q253.6,572.6 256.4,574.6 L459.5,691" fill="none" stroke="#1b1c1e" stroke-width="2.2" stroke-linecap="round"/>
</g>
<g id="tpu">
<path d="M258.2,464.2 C263.4,464.9 279.1,467.2 289.2,468.2 C299.3,469.2 309.3,470.1 318.6,470.4 C327.9,470.7 337.5,470.2 345.0,470.0 C352.5,469.8 354.7,469.9 363.7,469.0 C372.7,468.1 389.6,466.3 399.0,464.6 C408.4,462.9 408.2,462.9 420.0,458.8 C431.8,454.7 453.3,446.5 470.0,440.0 C486.7,433.5 511.7,423.3 520.0,420.0 L679,400 L679,596 C676.3,596.6 668.9,598.6 662.8,599.9 C656.7,601.2 649.2,602.6 642.4,604.0 C635.6,605.4 628.7,606.8 621.9,608.0 C615.1,609.2 608.2,610.3 601.4,611.2 C594.6,612.1 587.8,612.9 581.0,613.5 C574.2,614.1 567.3,614.7 560.5,614.8 C553.7,614.9 547.1,614.6 540.0,614.2 C532.9,613.8 525.4,613.6 517.8,612.4 C510.2,611.2 502.1,609.8 494.3,607.0 C486.5,604.2 478.6,599.8 470.7,595.6 C462.8,591.4 452.3,584.7 447.0,581.6 C441.7,578.5 440.3,577.6 439.0,576.8 L257.6,471.0 Q254.2,469.2 255.4,466.2 Q256.2,464.0 258.2,464.2 Z" fill="url(#gTpu)"/>
<path d="M679,596 C676.3,596.6 668.9,598.6 662.8,599.9 C656.7,601.2 649.2,602.6 642.4,604.0 C635.6,605.4 628.7,606.8 621.9,608.0 C615.1,609.2 608.2,610.3 601.4,611.2 C594.6,612.1 587.8,612.9 581.0,613.5 C574.2,614.1 567.3,614.7 560.5,614.8 C553.7,614.9 547.1,614.6 540.0,614.2 C532.9,613.8 525.4,613.6 517.8,612.4 C510.2,611.2 502.1,609.8 494.3,607.0 C486.5,604.2 478.6,599.8 470.7,595.6 C462.8,591.4 452.3,584.7 447.0,581.6 C441.7,578.5 440.3,577.6 439.0,576.8 L257.6,471.0 Q254.6,469.4 255.3,466.8" fill="none" stroke="#4d6f7b" stroke-width="1.9" stroke-linecap="round"/>
</g>
<g id="drops-bottom">
<path d="M519.3,519.5 C520.9,528.1 526.4,529.5 526.4,537.6 A7.2,7.2 0 1 1 512.1,537.6 C512.1,529.5 517.7,528.1 519.3,519.5Z" fill="url(#gDrop)" stroke="#4a7fb8" stroke-width="1.3" stroke-linejoin="round"/><ellipse cx="520.4" cy="536.1" rx="3.6" ry="6.1" fill="#ffffff" opacity="0.7" filter="url(#blur1)"/><path d="M513.4,536.1 A6.0,6.0 0 0 0 521.8,543.3" fill="none" stroke="#5f95c8" stroke-width="1.1" stroke-linecap="round" opacity="0.55" filter="url(#blur1)"/>
<path d="M543.1,537.2 C544.7,545.0 550.1,545.2 550.1,553.1 A7.0,7.0 0 1 1 536.1,553.1 C536.1,545.2 541.5,545.0 543.1,537.2Z" fill="url(#gDrop)" stroke="#4a7fb8" stroke-width="1.3" stroke-linejoin="round"/><ellipse cx="544.2" cy="551.6" rx="3.5" ry="6.0" fill="#ffffff" opacity="0.7" filter="url(#blur1)"/><path d="M537.3,551.6 A5.9,5.9 0 0 0 545.6,558.7" fill="none" stroke="#5f95c8" stroke-width="1.1" stroke-linecap="round" opacity="0.55" filter="url(#blur1)"/>
<path d="M567.2,523.3 C568.7,530.6 574.1,530.2 574.1,537.9 A6.8,6.8 0 1 1 560.4,537.9 C560.4,530.2 565.7,530.6 567.2,523.3Z" fill="url(#gDrop)" stroke="#4a7fb8" stroke-width="1.3" stroke-linejoin="round"/><ellipse cx="568.2" cy="536.5" rx="3.4" ry="5.8" fill="#ffffff" opacity="0.7" filter="url(#blur1)"/><path d="M561.6,536.5 A5.8,5.8 0 0 0 569.6,543.3" fill="none" stroke="#5f95c8" stroke-width="1.1" stroke-linecap="round" opacity="0.55" filter="url(#blur1)"/>
</g>
<g id="cotton">
<path d="M279,346 L286,368 L498,532 L560,538 L680,512 L680,380 L420,330 Z" fill="#a8a8a8" opacity="0.55" filter="url(#blurBig)"/>
<circle cx="688.0" cy="212.0" r="26.3" fill="url(#gBallSh)"/><circle cx="688.0" cy="212.0" r="17.3" fill="url(#gBall)"/>
<circle cx="665.0" cy="229.0" r="26.5" fill="url(#gBallSh)"/><circle cx="665.0" cy="229.0" r="17.5" fill="url(#gBall)"/>
<circle cx="689.3" cy="241.7" r="26.5" fill="url(#gBallSh)"/><circle cx="689.3" cy="241.7" r="17.5" fill="url(#gBall)"/>
<circle cx="641.0" cy="245.0" r="26.6" fill="url(#gBallSh)"/><circle cx="641.0" cy="245.0" r="17.6" fill="url(#gBall)"/>
<circle cx="665.3" cy="258.2" r="26.6" fill="url(#gBallSh)"/><circle cx="665.3" cy="258.2" r="17.6" fill="url(#gBall)"/>
<circle cx="689.7" cy="271.6" r="26.6" fill="url(#gBallSh)"/><circle cx="689.7" cy="271.6" r="17.6" fill="url(#gBall)"/>
<circle cx="616.0" cy="260.0" r="26.7" fill="url(#gBallSh)"/><circle cx="616.0" cy="260.0" r="17.7" fill="url(#gBall)"/>
<circle cx="640.3" cy="273.6" r="26.7" fill="url(#gBallSh)"/><circle cx="640.3" cy="273.6" r="17.7" fill="url(#gBall)"/>
<circle cx="664.7" cy="287.5" r="26.7" fill="url(#gBallSh)"/><circle cx="664.7" cy="287.5" r="17.7" fill="url(#gBall)"/>
<circle cx="689.0" cy="301.8" r="26.7" fill="url(#gBallSh)"/><circle cx="689.0" cy="301.8" r="17.7" fill="url(#gBall)"/>
<circle cx="590.0" cy="274.0" r="26.8" fill="url(#gBallSh)"/><circle cx="590.0" cy="274.0" r="17.8" fill="url(#gBall)"/>
<circle cx="614.3" cy="288.1" r="26.8" fill="url(#gBallSh)"/><circle cx="614.3" cy="288.1" r="17.8" fill="url(#gBall)"/>
<circle cx="638.7" cy="302.4" r="26.8" fill="url(#gBallSh)"/><circle cx="638.7" cy="302.4" r="17.8" fill="url(#gBall)"/>
<circle cx="663.0" cy="317.1" r="26.8" fill="url(#gBallSh)"/><circle cx="663.0" cy="317.1" r="17.8" fill="url(#gBall)"/>
<circle cx="687.3" cy="332.5" r="26.8" fill="url(#gBallSh)"/><circle cx="687.3" cy="332.5" r="17.8" fill="url(#gBall)"/>
<circle cx="563.0" cy="287.0" r="26.9" fill="url(#gBallSh)"/><circle cx="563.0" cy="287.0" r="17.9" fill="url(#gBall)"/>
<circle cx="587.3" cy="301.5" r="26.9" fill="url(#gBallSh)"/><circle cx="587.3" cy="301.5" r="17.9" fill="url(#gBall)"/>
<circle cx="611.7" cy="316.3" r="26.9" fill="url(#gBallSh)"/><circle cx="611.7" cy="316.3" r="17.9" fill="url(#gBall)"/>
<circle cx="636.0" cy="331.5" r="26.9" fill="url(#gBallSh)"/><circle cx="636.0" cy="331.5" r="17.9" fill="url(#gBall)"/>
<circle cx="660.3" cy="347.3" r="26.9" fill="url(#gBallSh)"/><circle cx="660.3" cy="347.3" r="17.9" fill="url(#gBall)"/>
<circle cx="684.7" cy="363.9" r="26.9" fill="url(#gBallSh)"/><circle cx="684.7" cy="363.9" r="17.9" fill="url(#gBall)"/>
<circle cx="709.0" cy="381.1" r="26.9" fill="url(#gBallSh)"/><circle cx="709.0" cy="381.1" r="17.9" fill="url(#gBall)"/>
<circle cx="535.0" cy="301.0" r="27.1" fill="url(#gBallSh)"/><circle cx="535.0" cy="301.0" r="18.1" fill="url(#gBall)"/>
<circle cx="559.3" cy="315.7" r="27.1" fill="url(#gBallSh)"/><circle cx="559.3" cy="315.7" r="18.1" fill="url(#gBall)"/>
<circle cx="583.7" cy="330.7" r="27.1" fill="url(#gBallSh)"/><circle cx="583.7" cy="330.7" r="18.1" fill="url(#gBall)"/>
<circle cx="608.0" cy="346.1" r="27.1" fill="url(#gBallSh)"/><circle cx="608.0" cy="346.1" r="18.1" fill="url(#gBall)"/>
<circle cx="632.3" cy="362.2" r="27.1" fill="url(#gBallSh)"/><circle cx="632.3" cy="362.2" r="18.1" fill="url(#gBall)"/>
<circle cx="656.7" cy="379.0" r="27.1" fill="url(#gBallSh)"/><circle cx="656.7" cy="379.0" r="18.1" fill="url(#gBall)"/>
<circle cx="681.0" cy="396.5" r="27.1" fill="url(#gBallSh)"/><circle cx="681.0" cy="396.5" r="18.1" fill="url(#gBall)"/>
<circle cx="705.3" cy="414.6" r="27.1" fill="url(#gBallSh)"/><circle cx="705.3" cy="414.6" r="18.1" fill="url(#gBall)"/>
<circle cx="506.0" cy="313.0" r="27.2" fill="url(#gBallSh)"/><circle cx="506.0" cy="313.0" r="18.2" fill="url(#gBall)"/>
<circle cx="530.3" cy="328.1" r="27.2" fill="url(#gBallSh)"/><circle cx="530.3" cy="328.1" r="18.2" fill="url(#gBall)"/>
<circle cx="554.7" cy="343.4" r="27.2" fill="url(#gBallSh)"/><circle cx="554.7" cy="343.4" r="18.2" fill="url(#gBall)"/>
<circle cx="579.0" cy="359.1" r="27.2" fill="url(#gBallSh)"/><circle cx="579.0" cy="359.1" r="18.2" fill="url(#gBall)"/>
<circle cx="603.3" cy="375.5" r="27.2" fill="url(#gBallSh)"/><circle cx="603.3" cy="375.5" r="18.2" fill="url(#gBall)"/>
<circle cx="627.7" cy="392.6" r="27.2" fill="url(#gBallSh)"/><circle cx="627.7" cy="392.6" r="18.2" fill="url(#gBall)"/>
<circle cx="652.0" cy="410.5" r="27.2" fill="url(#gBallSh)"/><circle cx="652.0" cy="410.5" r="18.2" fill="url(#gBall)"/>
<circle cx="676.3" cy="428.9" r="27.2" fill="url(#gBallSh)"/><circle cx="676.3" cy="428.9" r="18.2" fill="url(#gBall)"/>
<circle cx="700.7" cy="447.8" r="27.2" fill="url(#gBallSh)"/><circle cx="700.7" cy="447.8" r="18.2" fill="url(#gBall)"/>
<circle cx="476.0" cy="323.5" r="27.3" fill="url(#gBallSh)"/><circle cx="476.0" cy="323.5" r="18.3" fill="url(#gBall)"/>
<circle cx="500.2" cy="338.9" r="27.3" fill="url(#gBallSh)"/><circle cx="500.2" cy="338.9" r="18.3" fill="url(#gBall)"/>
<circle cx="524.4" cy="354.6" r="27.3" fill="url(#gBallSh)"/><circle cx="524.4" cy="354.6" r="18.3" fill="url(#gBall)"/>
<circle cx="548.7" cy="370.8" r="27.3" fill="url(#gBallSh)"/><circle cx="548.7" cy="370.8" r="18.3" fill="url(#gBall)"/>
<circle cx="572.9" cy="387.6" r="27.3" fill="url(#gBallSh)"/><circle cx="572.9" cy="387.6" r="18.3" fill="url(#gBall)"/>
<circle cx="597.1" cy="405.1" r="27.3" fill="url(#gBallSh)"/><circle cx="597.1" cy="405.1" r="18.3" fill="url(#gBall)"/>
<circle cx="621.3" cy="423.3" r="27.3" fill="url(#gBallSh)"/><circle cx="621.3" cy="423.3" r="18.3" fill="url(#gBall)"/>
<circle cx="645.6" cy="442.1" r="27.3" fill="url(#gBallSh)"/><circle cx="645.6" cy="442.1" r="18.3" fill="url(#gBall)"/>
<circle cx="669.8" cy="461.4" r="27.3" fill="url(#gBallSh)"/><circle cx="669.8" cy="461.4" r="18.3" fill="url(#gBall)"/>
<circle cx="694.0" cy="481.0" r="27.3" fill="url(#gBallSh)"/><circle cx="694.0" cy="481.0" r="18.3" fill="url(#gBall)"/>
<circle cx="444.5" cy="332.0" r="27.4" fill="url(#gBallSh)"/><circle cx="444.5" cy="332.0" r="18.4" fill="url(#gBall)"/>
<circle cx="468.6" cy="347.9" r="27.4" fill="url(#gBallSh)"/><circle cx="468.6" cy="347.9" r="18.4" fill="url(#gBall)"/>
<circle cx="492.6" cy="364.0" r="27.4" fill="url(#gBallSh)"/><circle cx="492.6" cy="364.0" r="18.4" fill="url(#gBall)"/>
<circle cx="516.7" cy="380.6" r="27.4" fill="url(#gBallSh)"/><circle cx="516.7" cy="380.6" r="18.4" fill="url(#gBall)"/>
<circle cx="540.7" cy="397.9" r="27.4" fill="url(#gBallSh)"/><circle cx="540.7" cy="397.9" r="18.4" fill="url(#gBall)"/>
<circle cx="564.8" cy="415.8" r="27.4" fill="url(#gBallSh)"/><circle cx="564.8" cy="415.8" r="18.4" fill="url(#gBall)"/>
<circle cx="588.8" cy="434.5" r="27.4" fill="url(#gBallSh)"/><circle cx="588.8" cy="434.5" r="18.4" fill="url(#gBall)"/>
<circle cx="612.9" cy="453.8" r="27.4" fill="url(#gBallSh)"/><circle cx="612.9" cy="453.8" r="18.4" fill="url(#gBall)"/>
<circle cx="636.9" cy="473.5" r="27.4" fill="url(#gBallSh)"/><circle cx="636.9" cy="473.5" r="18.4" fill="url(#gBall)"/>
<circle cx="661.0" cy="493.5" r="27.4" fill="url(#gBallSh)"/><circle cx="661.0" cy="493.5" r="18.4" fill="url(#gBall)"/>
<circle cx="411.5" cy="338.6" r="27.5" fill="url(#gBallSh)"/><circle cx="411.5" cy="338.6" r="18.5" fill="url(#gBall)"/>
<circle cx="435.4" cy="354.9" r="27.5" fill="url(#gBallSh)"/><circle cx="435.4" cy="354.9" r="18.5" fill="url(#gBall)"/>
<circle cx="459.3" cy="371.5" r="27.5" fill="url(#gBallSh)"/><circle cx="459.3" cy="371.5" r="18.5" fill="url(#gBall)"/>
<circle cx="483.1" cy="388.5" r="27.5" fill="url(#gBallSh)"/><circle cx="483.1" cy="388.5" r="18.5" fill="url(#gBall)"/>
<circle cx="507.0" cy="406.2" r="27.5" fill="url(#gBallSh)"/><circle cx="507.0" cy="406.2" r="18.5" fill="url(#gBall)"/>
<circle cx="530.9" cy="424.6" r="27.5" fill="url(#gBallSh)"/><circle cx="530.9" cy="424.6" r="18.5" fill="url(#gBall)"/>
<circle cx="554.8" cy="443.7" r="27.5" fill="url(#gBallSh)"/><circle cx="554.8" cy="443.7" r="18.5" fill="url(#gBall)"/>
<circle cx="578.6" cy="463.4" r="27.5" fill="url(#gBallSh)"/><circle cx="578.6" cy="463.4" r="18.5" fill="url(#gBall)"/>
<circle cx="602.5" cy="483.6" r="27.5" fill="url(#gBallSh)"/><circle cx="602.5" cy="483.6" r="18.5" fill="url(#gBall)"/>
<circle cx="626.4" cy="504.0" r="27.5" fill="url(#gBallSh)"/><circle cx="626.4" cy="504.0" r="18.5" fill="url(#gBall)"/>
<circle cx="375.0" cy="343.2" r="27.7" fill="url(#gBallSh)"/><circle cx="375.0" cy="343.2" r="18.7" fill="url(#gBall)"/>
<circle cx="398.6" cy="359.7" r="27.7" fill="url(#gBallSh)"/><circle cx="398.6" cy="359.7" r="18.7" fill="url(#gBall)"/>
<circle cx="422.3" cy="376.5" r="27.7" fill="url(#gBallSh)"/><circle cx="422.3" cy="376.5" r="18.7" fill="url(#gBall)"/>
<circle cx="445.9" cy="393.7" r="27.7" fill="url(#gBallSh)"/><circle cx="445.9" cy="393.7" r="18.7" fill="url(#gBall)"/>
<circle cx="469.6" cy="411.5" r="27.7" fill="url(#gBallSh)"/><circle cx="469.6" cy="411.5" r="18.7" fill="url(#gBall)"/>
<circle cx="493.2" cy="430.1" r="27.7" fill="url(#gBallSh)"/><circle cx="493.2" cy="430.1" r="18.7" fill="url(#gBall)"/>
<circle cx="516.9" cy="449.3" r="27.7" fill="url(#gBallSh)"/><circle cx="516.9" cy="449.3" r="18.7" fill="url(#gBall)"/>
<circle cx="540.5" cy="469.2" r="27.7" fill="url(#gBallSh)"/><circle cx="540.5" cy="469.2" r="18.7" fill="url(#gBall)"/>
<circle cx="564.2" cy="489.6" r="27.7" fill="url(#gBallSh)"/><circle cx="564.2" cy="489.6" r="18.7" fill="url(#gBall)"/>
<circle cx="587.8" cy="510.2" r="27.7" fill="url(#gBallSh)"/><circle cx="587.8" cy="510.2" r="18.7" fill="url(#gBall)"/>
<circle cx="338.3" cy="345.8" r="27.8" fill="url(#gBallSh)"/><circle cx="338.3" cy="345.8" r="18.8" fill="url(#gBall)"/>
<circle cx="362.0" cy="362.6" r="27.8" fill="url(#gBallSh)"/><circle cx="362.0" cy="362.6" r="18.8" fill="url(#gBall)"/>
<circle cx="385.7" cy="379.6" r="27.8" fill="url(#gBallSh)"/><circle cx="385.7" cy="379.6" r="18.8" fill="url(#gBall)"/>
<circle cx="409.3" cy="397.0" r="27.8" fill="url(#gBallSh)"/><circle cx="409.3" cy="397.0" r="18.8" fill="url(#gBall)"/>
<circle cx="433.0" cy="414.9" r="27.8" fill="url(#gBallSh)"/><circle cx="433.0" cy="414.9" r="18.8" fill="url(#gBall)"/>
<circle cx="456.7" cy="433.4" r="27.8" fill="url(#gBallSh)"/><circle cx="456.7" cy="433.4" r="18.8" fill="url(#gBall)"/>
<circle cx="480.4" cy="452.5" r="27.8" fill="url(#gBallSh)"/><circle cx="480.4" cy="452.5" r="18.8" fill="url(#gBall)"/>
<circle cx="504.0" cy="472.1" r="27.8" fill="url(#gBallSh)"/><circle cx="504.0" cy="472.1" r="18.8" fill="url(#gBall)"/>
<circle cx="527.7" cy="492.1" r="27.8" fill="url(#gBallSh)"/><circle cx="527.7" cy="492.1" r="18.8" fill="url(#gBall)"/>
<circle cx="551.4" cy="512.3" r="27.8" fill="url(#gBallSh)"/><circle cx="551.4" cy="512.3" r="18.8" fill="url(#gBall)"/>
<circle cx="299.3" cy="347.8" r="27.9" fill="url(#gBallSh)"/><circle cx="299.3" cy="347.8" r="18.9" fill="url(#gBall)"/>
<circle cx="323.0" cy="365.8" r="27.9" fill="url(#gBallSh)"/><circle cx="323.0" cy="365.8" r="18.9" fill="url(#gBall)"/>
<circle cx="346.7" cy="383.8" r="27.9" fill="url(#gBallSh)"/><circle cx="346.7" cy="383.8" r="18.9" fill="url(#gBall)"/>
<circle cx="370.4" cy="401.9" r="27.9" fill="url(#gBallSh)"/><circle cx="370.4" cy="401.9" r="18.9" fill="url(#gBall)"/>
<circle cx="394.1" cy="419.9" r="27.9" fill="url(#gBallSh)"/><circle cx="394.1" cy="419.9" r="18.9" fill="url(#gBall)"/>
<circle cx="417.7" cy="437.9" r="27.9" fill="url(#gBallSh)"/><circle cx="417.7" cy="437.9" r="18.9" fill="url(#gBall)"/>
<circle cx="441.4" cy="455.9" r="27.9" fill="url(#gBallSh)"/><circle cx="441.4" cy="455.9" r="18.9" fill="url(#gBall)"/>
<circle cx="465.1" cy="474.0" r="27.9" fill="url(#gBallSh)"/><circle cx="465.1" cy="474.0" r="18.9" fill="url(#gBall)"/>
<circle cx="488.8" cy="492.0" r="27.9" fill="url(#gBallSh)"/><circle cx="488.8" cy="492.0" r="18.9" fill="url(#gBall)"/>
<circle cx="512.5" cy="510.0" r="27.9" fill="url(#gBallSh)"/><circle cx="512.5" cy="510.0" r="18.9" fill="url(#gBall)"/>
</g>
<g id="drops-mid">
<ellipse cx="498.9" cy="347.0" rx="15.6" ry="15.3" fill="url(#gBulb)" stroke="#5d97d2" stroke-width="1"/><ellipse cx="500.8" cy="352.4" rx="8.6" ry="6.4" fill="#e3f0fb" opacity="0.75" filter="url(#blur1)"/>
<ellipse cx="551.0" cy="350.0" rx="13.6" ry="13.3" fill="url(#gBulb)" stroke="#5d97d2" stroke-width="1"/><ellipse cx="552.6" cy="354.7" rx="7.5" ry="5.6" fill="#e3f0fb" opacity="0.75" filter="url(#blur1)"/>
<ellipse cx="604.2" cy="352.0" rx="15.0" ry="16.0" fill="url(#gBulb)" stroke="#5d97d2" stroke-width="1"/><ellipse cx="606.0" cy="357.6" rx="8.2" ry="6.7" fill="#e3f0fb" opacity="0.75" filter="url(#blur1)"/>
<path d="M527.6,370.6 C530.1,384.6 538.9,387.8 538.9,400.4 A11.2,11.2 0 1 1 516.4,400.4 C516.4,387.8 525.1,384.6 527.6,370.6Z" fill="url(#gDrop)" stroke="#4a7fb8" stroke-width="1.4" stroke-linejoin="round"/><ellipse cx="529.3" cy="398.2" rx="5.6" ry="9.6" fill="#ffffff" opacity="0.7" filter="url(#blur1)"/><path d="M518.4,398.2 A9.4,9.4 0 0 0 531.5,409.4" fill="none" stroke="#5f95c8" stroke-width="1.8" stroke-linecap="round" opacity="0.55" filter="url(#blur1)"/>
<path d="M566.8,370.6 C569.3,384.4 578.2,387.1 578.2,399.9 A11.4,11.4 0 1 1 555.4,399.9 C555.4,387.1 564.3,384.4 566.8,370.6Z" fill="url(#gDrop)" stroke="#4a7fb8" stroke-width="1.4" stroke-linejoin="round"/><ellipse cx="568.5" cy="397.6" rx="5.7" ry="9.7" fill="#ffffff" opacity="0.7" filter="url(#blur1)"/><path d="M557.5,397.6 A9.6,9.6 0 0 0 570.8,409.0" fill="none" stroke="#5f95c8" stroke-width="1.8" stroke-linecap="round" opacity="0.55" filter="url(#blur1)"/>
</g>
<g id="arrow2">
<path d="M522.3,421 C526.5,431 532,440 535.7,447.7 C538.5,455 540,466 540.3,477.5 L534.6,480.9 L544.3,492.6 L554.4,478.8 L549.6,479.5 C549.8,468 551,457 552.8,450.4 C555.5,441 562,431 569.2,421 Z" fill="url(#gArrow)" mask="url(#mA2)"/>
</g>
<g id="fabric">
<clipPath id="cpFab"><path d="M255.6,203.3 C258.8,203.7 266.4,204.7 274.5,205.5 C282.6,206.3 295.4,207.8 304.0,208.4 C312.6,209.0 319.2,208.9 326.0,209.0 C332.8,209.1 339.0,209.0 345.0,208.9 C351.0,208.8 356.2,208.6 362.0,208.2 C367.8,207.8 373.1,207.6 380.0,206.5 C386.9,205.4 395.8,203.3 403.6,201.4 C411.4,199.5 419.1,197.1 427.0,194.8 C434.9,192.5 442.8,190.2 450.7,187.7 C458.6,185.1 466.4,182.4 474.3,179.5 C482.2,176.6 490.0,173.3 497.8,170.0 C505.6,166.7 513.5,163.3 521.4,159.4 C529.3,155.5 535.2,152.9 545.0,146.6 C554.8,140.3 569.8,129.8 580.4,121.8 C591.0,113.8 604.0,102.6 608.7,98.8 L679,127 L679,337.5 C672.5,337.9 650.0,339.2 640.0,340.0 C630.0,340.8 626.9,341.4 619.0,342.3 C611.1,343.2 601.3,344.5 592.5,345.7 C583.7,346.9 573.8,348.5 566.0,349.5 C558.2,350.5 553.0,351.5 545.7,351.5 C538.4,351.5 529.9,351.1 522.0,349.7 C514.1,348.3 506.4,346.1 498.6,343.3 C490.8,340.5 483.6,337.1 475.0,332.7 C466.4,328.3 455.6,321.9 447.0,317.0 C438.4,312.1 431.4,307.8 423.6,303.3 C415.8,298.8 403.9,292.2 400.0,290.0 L255.0,207.5 Z"/></clipPath>
<path d="M255.6,203.3 C258.8,203.7 266.4,204.7 274.5,205.5 C282.6,206.3 295.4,207.8 304.0,208.4 C312.6,209.0 319.2,208.9 326.0,209.0 C332.8,209.1 339.0,209.0 345.0,208.9 C351.0,208.8 356.2,208.6 362.0,208.2 C367.8,207.8 373.1,207.6 380.0,206.5 C386.9,205.4 395.8,203.3 403.6,201.4 C411.4,199.5 419.1,197.1 427.0,194.8 C434.9,192.5 442.8,190.2 450.7,187.7 C458.6,185.1 466.4,182.4 474.3,179.5 C482.2,176.6 490.0,173.3 497.8,170.0 C505.6,166.7 513.5,163.3 521.4,159.4 C529.3,155.5 535.2,152.9 545.0,146.6 C554.8,140.3 569.8,129.8 580.4,121.8 C591.0,113.8 604.0,102.6 608.7,98.8 L679,127 L679,341.1 C672.5,341.5 650.0,342.8 640.0,343.6 C630.0,344.4 626.9,345.0 619.0,345.9 C611.1,346.9 601.3,348.1 592.5,349.3 C583.7,350.5 573.8,352.1 566.0,353.1 C558.2,354.1 553.0,355.1 545.7,355.1 C538.4,355.1 529.9,354.7 522.0,353.3 C514.1,351.9 506.4,349.7 498.6,346.9 C490.8,344.1 483.6,340.7 475.0,336.3 C466.4,331.9 455.6,325.5 447.0,320.6 C438.4,315.7 431.4,311.4 423.6,306.9 C415.8,302.4 403.9,295.8 400.0,293.6 L253.9,211.1 Z" fill="#c3c8cb"/>
<path d="M255.6,203.3 C258.8,203.7 266.4,204.7 274.5,205.5 C282.6,206.3 295.4,207.8 304.0,208.4 C312.6,209.0 319.2,208.9 326.0,209.0 C332.8,209.1 339.0,209.0 345.0,208.9 C351.0,208.8 356.2,208.6 362.0,208.2 C367.8,207.8 373.1,207.6 380.0,206.5 C386.9,205.4 395.8,203.3 403.6,201.4 C411.4,199.5 419.1,197.1 427.0,194.8 C434.9,192.5 442.8,190.2 450.7,187.7 C458.6,185.1 466.4,182.4 474.3,179.5 C482.2,176.6 490.0,173.3 497.8,170.0 C505.6,166.7 513.5,163.3 521.4,159.4 C529.3,155.5 535.2,152.9 545.0,146.6 C554.8,140.3 569.8,129.8 580.4,121.8 C591.0,113.8 604.0,102.6 608.7,98.8 L679,127 L679,337.5 C672.5,337.9 650.0,339.2 640.0,340.0 C630.0,340.8 626.9,341.4 619.0,342.3 C611.1,343.2 601.3,344.5 592.5,345.7 C583.7,346.9 573.8,348.5 566.0,349.5 C558.2,350.5 553.0,351.5 545.7,351.5 C538.4,351.5 529.9,351.1 522.0,349.7 C514.1,348.3 506.4,346.1 498.6,343.3 C490.8,340.5 483.6,337.1 475.0,332.7 C466.4,328.3 455.6,321.9 447.0,317.0 C438.4,312.1 431.4,307.8 423.6,303.3 C415.8,298.8 403.9,292.2 400.0,290.0 L255.0,207.5 Z" fill="url(#gFab)"/>
<path d="M255.6,203.3 C258.8,203.7 266.4,204.7 274.5,205.5 C282.6,206.3 295.4,207.8 304.0,208.4 C312.6,209.0 319.2,208.9 326.0,209.0 C332.8,209.1 339.0,209.0 345.0,208.9 C351.0,208.8 356.2,208.6 362.0,208.2 C367.8,207.8 373.1,207.6 380.0,206.5 C386.9,205.4 395.8,203.3 403.6,201.4 C411.4,199.5 419.1,197.1 427.0,194.8 C434.9,192.5 442.8,190.2 450.7,187.7 C458.6,185.1 466.4,182.4 474.3,179.5 C482.2,176.6 490.0,173.3 497.8,170.0 C505.6,166.7 513.5,163.3 521.4,159.4 C529.3,155.5 535.2,152.9 545.0,146.6 C554.8,140.3 569.8,129.8 580.4,121.8 C591.0,113.8 604.0,102.6 608.7,98.8 L679,127" fill="none" stroke="#3a4c55" stroke-width="0.9" opacity="0.8"/>
<g clip-path="url(#cpFab)">
<rect x="250" y="95" width="430" height="262" fill="url(#pWeave)"/>
<path d="M318.4,203.0 C318.3,206.7 318.0,216.8 317.6,225.0 C317.2,233.2 316.4,247.5 316.2,252.0 M324.6,203.0 C324.5,206.7 324.4,216.8 324.1,225.0 C323.8,233.2 323.2,247.5 323.0,252.0 M387.2,198.0 C386.7,202.5 385.6,208.0 384.4,225.0 C383.2,242.0 380.9,287.5 380.2,300.0 M393.4,198.0 C393.0,202.5 391.9,208.0 390.9,225.0 C389.9,242.0 388.2,287.5 387.6,300.0 M452.5,181.0 C452.6,183.5 452.9,179.5 453.2,196.0 C453.5,212.5 453.7,256.3 454.4,280.0 C455.1,303.7 457.0,328.3 457.5,338.0 M458.5,181.0 C458.6,183.5 458.8,179.5 459.4,196.0 C459.9,212.5 460.6,256.3 461.6,280.0 C462.6,303.7 464.7,328.3 465.4,338.0 M517.3,158.0 C517.8,164.7 518.8,180.2 520.0,198.0 C521.2,215.8 523.5,248.0 524.3,265.0 C525.1,282.0 524.6,284.8 524.8,300.0 C525.0,315.2 525.5,346.7 525.6,356.0 M523.0,158.0 C523.5,164.7 524.8,180.2 526.2,198.0 C527.6,215.8 530.3,248.0 531.3,265.0 C532.3,282.0 531.8,284.8 532.2,300.0 C532.6,315.2 533.4,346.7 533.7,356.0 M576.2,116.0 C577.3,130.0 580.2,177.7 582.8,200.0 C585.3,222.3 589.3,232.0 591.5,250.0 C593.7,268.0 594.6,290.3 596.0,308.0 C597.4,325.7 599.2,348.0 599.8,356.0 M581.8,116.0 C583.0,130.0 586.2,177.7 589.0,200.0 C591.8,222.3 595.9,232.0 598.3,250.0 C600.7,268.0 601.9,290.3 603.5,308.0 C605.1,325.7 607.1,348.0 607.9,356.0 M636.0,102.0 C638.7,118.3 648.0,175.3 652.0,200.0 C656.0,224.7 657.0,230.0 659.9,250.0 C662.8,270.0 667.1,302.7 669.5,320.0 C671.9,337.3 673.4,348.3 674.2,354.0 M642.6,102.0 C645.4,118.3 655.0,175.3 659.2,200.0 C663.4,224.7 664.5,230.0 667.7,250.0 C670.9,270.0 675.5,302.7 678.1,320.0 C680.7,337.3 682.4,348.3 683.2,354.0 M250,203.5 C275.0,203.4 358.3,203.4 400.0,203.0 C441.7,202.6 466.7,201.9 500.0,201.3 C533.3,200.7 570.0,200.1 600.0,199.5 C630.0,198.9 666.7,198.2 680.0,198.0 M250,199.2 C275.0,199.1 358.3,199.1 400.0,198.7 C441.7,198.3 466.7,197.6 500.0,197.0 C533.3,196.4 570.0,195.8 600.0,195.2 C630.0,194.6 666.7,193.9 680.0,193.7 M250,240.0 C275.0,239.9 358.3,239.6 400.0,239.3 C441.7,239.0 466.7,238.6 500.0,238.2 C533.3,237.8 570.0,237.0 600.0,236.6 C630.0,236.2 666.7,235.7 680.0,235.5 M250,235.3 C275.0,235.2 358.3,234.9 400.0,234.6 C441.7,234.3 466.7,233.9 500.0,233.5 C533.3,233.1 570.0,232.3 600.0,231.9 C630.0,231.5 666.7,231.0 680.0,230.8 M250,278.0 C283.3,277.9 408.3,277.6 450.0,277.4 C491.7,277.2 475.0,277.2 500.0,276.8 C525.0,276.4 570.0,275.4 600.0,274.8 C630.0,274.2 666.7,273.5 680.0,273.2 M250,273.0 C283.3,272.9 408.3,272.6 450.0,272.4 C491.7,272.2 475.0,272.2 500.0,271.8 C525.0,271.4 570.0,270.4 600.0,269.8 C630.0,269.2 666.7,268.5 680.0,268.2 M250,316.8 C286.7,316.7 425.0,316.3 470.0,316.0 C515.0,315.7 498.3,315.5 520.0,315.0 C541.7,314.5 573.3,313.5 600.0,312.8 C626.7,312.1 666.7,311.1 680.0,310.8 M250,311.4 C286.7,311.3 425.0,310.9 470.0,310.6 C515.0,310.3 498.3,310.1 520.0,309.6 C541.7,309.1 573.3,308.1 600.0,307.4 C626.7,306.7 666.7,305.7 680.0,305.4 M500,166.8 C510.0,166.4 540.0,165.3 560.0,164.6 C580.0,163.9 600.0,163.4 620.0,162.8 C640.0,162.2 670.0,161.5 680.0,161.2 M500,163.3 C510.0,162.9 540.0,161.8 560.0,161.1 C580.0,160.4 600.0,159.9 620.0,159.3 C640.0,158.7 670.0,158.0 680.0,157.7 M570,131.2 C580.0,131.0 611.7,130.4 630.0,130.0 C648.3,129.6 671.7,128.8 680.0,128.6 M570,128.0 C580.0,127.8 611.7,127.2 630.0,126.8 C648.3,126.4 671.7,125.6 680.0,125.4" fill="none" stroke="#7d97a3" stroke-width="3.2" opacity="0.16"/>
<path d="M318.4,203.0 C318.3,206.7 318.0,216.8 317.6,225.0 C317.2,233.2 316.4,247.5 316.2,252.0 M324.6,203.0 C324.5,206.7 324.4,216.8 324.1,225.0 C323.8,233.2 323.2,247.5 323.0,252.0 M387.2,198.0 C386.7,202.5 385.6,208.0 384.4,225.0 C383.2,242.0 380.9,287.5 380.2,300.0 M393.4,198.0 C393.0,202.5 391.9,208.0 390.9,225.0 C389.9,242.0 388.2,287.5 387.6,300.0 M452.5,181.0 C452.6,183.5 452.9,179.5 453.2,196.0 C453.5,212.5 453.7,256.3 454.4,280.0 C455.1,303.7 457.0,328.3 457.5,338.0 M458.5,181.0 C458.6,183.5 458.8,179.5 459.4,196.0 C459.9,212.5 460.6,256.3 461.6,280.0 C462.6,303.7 464.7,328.3 465.4,338.0 M517.3,158.0 C517.8,164.7 518.8,180.2 520.0,198.0 C521.2,215.8 523.5,248.0 524.3,265.0 C525.1,282.0 524.6,284.8 524.8,300.0 C525.0,315.2 525.5,346.7 525.6,356.0 M523.0,158.0 C523.5,164.7 524.8,180.2 526.2,198.0 C527.6,215.8 530.3,248.0 531.3,265.0 C532.3,282.0 531.8,284.8 532.2,300.0 C532.6,315.2 533.4,346.7 533.7,356.0 M576.2,116.0 C577.3,130.0 580.2,177.7 582.8,200.0 C585.3,222.3 589.3,232.0 591.5,250.0 C593.7,268.0 594.6,290.3 596.0,308.0 C597.4,325.7 599.2,348.0 599.8,356.0 M581.8,116.0 C583.0,130.0 586.2,177.7 589.0,200.0 C591.8,222.3 595.9,232.0 598.3,250.0 C600.7,268.0 601.9,290.3 603.5,308.0 C605.1,325.7 607.1,348.0 607.9,356.0 M636.0,102.0 C638.7,118.3 648.0,175.3 652.0,200.0 C656.0,224.7 657.0,230.0 659.9,250.0 C662.8,270.0 667.1,302.7 669.5,320.0 C671.9,337.3 673.4,348.3 674.2,354.0 M642.6,102.0 C645.4,118.3 655.0,175.3 659.2,200.0 C663.4,224.7 664.5,230.0 667.7,250.0 C670.9,270.0 675.5,302.7 678.1,320.0 C680.7,337.3 682.4,348.3 683.2,354.0 M250,203.5 C275.0,203.4 358.3,203.4 400.0,203.0 C441.7,202.6 466.7,201.9 500.0,201.3 C533.3,200.7 570.0,200.1 600.0,199.5 C630.0,198.9 666.7,198.2 680.0,198.0 M250,199.2 C275.0,199.1 358.3,199.1 400.0,198.7 C441.7,198.3 466.7,197.6 500.0,197.0 C533.3,196.4 570.0,195.8 600.0,195.2 C630.0,194.6 666.7,193.9 680.0,193.7 M250,240.0 C275.0,239.9 358.3,239.6 400.0,239.3 C441.7,239.0 466.7,238.6 500.0,238.2 C533.3,237.8 570.0,237.0 600.0,236.6 C630.0,236.2 666.7,235.7 680.0,235.5 M250,235.3 C275.0,235.2 358.3,234.9 400.0,234.6 C441.7,234.3 466.7,233.9 500.0,233.5 C533.3,233.1 570.0,232.3 600.0,231.9 C630.0,231.5 666.7,231.0 680.0,230.8 M250,278.0 C283.3,277.9 408.3,277.6 450.0,277.4 C491.7,277.2 475.0,277.2 500.0,276.8 C525.0,276.4 570.0,275.4 600.0,274.8 C630.0,274.2 666.7,273.5 680.0,273.2 M250,273.0 C283.3,272.9 408.3,272.6 450.0,272.4 C491.7,272.2 475.0,272.2 500.0,271.8 C525.0,271.4 570.0,270.4 600.0,269.8 C630.0,269.2 666.7,268.5 680.0,268.2 M250,316.8 C286.7,316.7 425.0,316.3 470.0,316.0 C515.0,315.7 498.3,315.5 520.0,315.0 C541.7,314.5 573.3,313.5 600.0,312.8 C626.7,312.1 666.7,311.1 680.0,310.8 M250,311.4 C286.7,311.3 425.0,310.9 470.0,310.6 C515.0,310.3 498.3,310.1 520.0,309.6 C541.7,309.1 573.3,308.1 600.0,307.4 C626.7,306.7 666.7,305.7 680.0,305.4 M500,166.8 C510.0,166.4 540.0,165.3 560.0,164.6 C580.0,163.9 600.0,163.4 620.0,162.8 C640.0,162.2 670.0,161.5 680.0,161.2 M500,163.3 C510.0,162.9 540.0,161.8 560.0,161.1 C580.0,160.4 600.0,159.9 620.0,159.3 C640.0,158.7 670.0,158.0 680.0,157.7 M570,131.2 C580.0,131.0 611.7,130.4 630.0,130.0 C648.3,129.6 671.7,128.8 680.0,128.6 M570,128.0 C580.0,127.8 611.7,127.2 630.0,126.8 C648.3,126.4 671.7,125.6 680.0,125.4" fill="none" stroke="#25333b" stroke-width="1.25" stroke-dasharray="2.2 1.3" opacity="0.9"/>
</g>
</g>
<g id="arrow1">
<path d="M516.5,176 C520,186 526,198 530.4,207.8 C534.5,218 538.5,234 539.8,242.6 C541.5,252 543,264 543.5,273.2 L535.4,273.2 L551.1,293 L570,269.6 L561.5,272 C561.8,262 563.5,248 565.2,238.3 C567,229 571,215 575,205.7 C579,196 586,184 592.5,171 Z" fill="url(#gArrow)" mask="url(#mA1)"/>
</g>
<g id="drops-top">
<path d="M499.9,302.3 C501.9,313.5 510.1,324.2 512.7,330.4 Q500.3,340.5 487.9,331.8 C490.3,325.3 498.0,314.1 499.9,302.3Z" fill="url(#gCone)" stroke="#5a9be0" stroke-width="1" stroke-linejoin="round"/><path d="M489.1,331.4 Q500.3,318.5 511.5,330.0 Q500.3,339.1 489.1,331.4Z" fill="#ffffff" opacity="0.97"/><path d="M499.5,305.8 C498.7,317.1 493.3,322.4 490.3,328.6" fill="none" stroke="#62a6e8" stroke-width="2.8" opacity="0.75" stroke-linecap="round" filter="url(#blur1)"/>
<path d="M551.6,303.5 C553.9,315.8 563.3,327.5 566.2,334.3 Q551.3,345.7 536.4,335.8 C539.4,328.7 549.2,316.4 551.6,303.5Z" fill="url(#gCone)" stroke="#5a9be0" stroke-width="1" stroke-linejoin="round"/><path d="M537.6,335.4 Q551.3,321.2 565.0,333.9 Q551.3,344.3 537.6,335.4Z" fill="#ffffff" opacity="0.97"/><path d="M551.2,307.0 C550.4,319.6 543.2,325.5 538.8,332.6" fill="none" stroke="#62a6e8" stroke-width="2.8" opacity="0.75" stroke-linecap="round" filter="url(#blur1)"/>
<path d="M604.5,306.1 C606.8,318.5 615.9,330.4 618.8,337.2 Q604.0,351.9 589.1,340.6 C592.2,333.0 602.0,319.9 604.5,306.1Z" fill="url(#gCone)" stroke="#5a9be0" stroke-width="1" stroke-linejoin="round"/><path d="M590.3,340.2 Q604.0,322.7 617.6,336.8 Q604.0,350.5 590.3,340.2Z" fill="#ffffff" opacity="0.97"/><path d="M604.1,309.6 C603.3,323.4 596.0,329.6 591.5,337.4" fill="none" stroke="#62a6e8" stroke-width="2.8" opacity="0.75" stroke-linecap="round" filter="url(#blur1)"/>
</g>
</svg>
</body>
</html>
